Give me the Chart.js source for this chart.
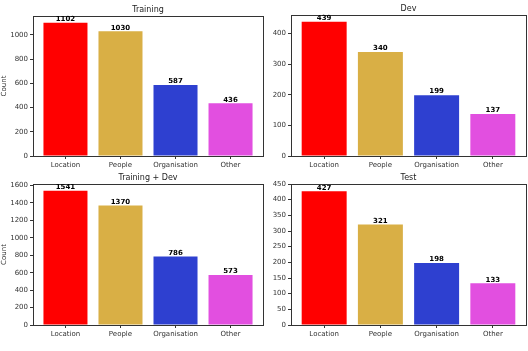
<!DOCTYPE html>
<html>
<head>
<meta charset="utf-8">
<script src="https://cdn.jsdelivr.net/npm/chart.js@4"></script>
<style>
  html, body { margin: 0; padding: 0; background: #fff; }
  #wrap { position: relative; width: 528px; height: 351px; }
  #wrap canvas { position: absolute; left: 0; top: 0; }
</style>
</head>
<body>
<div id="wrap">
  <canvas id="c-train" width="528" height="351"></canvas>
  <canvas id="c-dev" width="528" height="351"></canvas>
  <canvas id="c-traindev" width="528" height="351"></canvas>
  <canvas id="c-test" width="528" height="351"></canvas>
</div>
<script>
"use strict";

const categories = ['Location', 'People', 'Organisation', 'Other'];
const trainingCounts = [1102, 1030, 587, 436];
const devCounts = [439, 340, 199, 137];
const trainDevCounts = [1541, 1370, 786, 573];
const testCounts = [427, 321, 198, 133];
const barColors = ['#ff0000', '#d9af45', '#2e40d0', '#e24fe0'];

const FONT = "'DejaVu Sans', sans-serif";
const INK = '#333333';

// box around the axes + title + bar value labels
const panelDecor = {
	id: 'panelDecor',
	afterDatasetsDraw(chart, args, opts) {
		const ctx = chart.ctx;
		const a = chart.chartArea;
		ctx.save();
		ctx.strokeStyle = INK;
		ctx.lineWidth = 1;
		ctx.strokeRect(Math.round(a.left) + 0.5, Math.round(a.top) + 0.5,
			Math.round(a.right - a.left), Math.round(a.bottom - a.top));

		ctx.fillStyle = '#222';
		ctx.font = `8px ${FONT}`;
		ctx.textAlign = 'center';
		ctx.textBaseline = 'bottom';
		ctx.fillText(opts.title, (a.left + a.right) / 2, a.top - 2);

		ctx.fillStyle = '#000';
		ctx.font = `bold 7px ${FONT}`;
		const meta = chart.getDatasetMeta(0);
		meta.data.forEach((bar, i) => {
			ctx.fillText(chart.data.datasets[0].data[i].y, bar.x, bar.y);
		});
		ctx.restore();
	}
};

function drawPanel(id, title, counts, yMax, yStep, showCount, pad, yWidth) {
	const ctx = document.querySelector(id).getContext('2d');
	new Chart(ctx, {
		type: 'bar',
		data: {
			datasets: [{
				data: counts.map((v, i) => ({ x: i, y: v })),
				backgroundColor: barColors,
				borderWidth: 0,
				barPercentage: 0.8,
				categoryPercentage: 1.0
			}]
		},
		options: {
			responsive: false,
			animation: false,
			devicePixelRatio: 1,
			layout: { padding: pad },
			plugins: {
				legend: { display: false },
				tooltip: { enabled: false },
				panelDecor: { title: title }
			},
			scales: {
				x: {
					type: 'linear',
					min: -0.59,
					max: 3.59,
					offset: false,
					afterBuildTicks(scale) {
						scale.ticks = categories.map((c, i) => ({ value: i }));
					},
					afterFit(scale) { scale.height = 19; },
					ticks: {
						color: INK,
						font: { family: FONT, size: 7 },
						padding: 2,
						maxRotation: 0,
						autoSkip: false,
						callback: (v) => categories[v]
					},
					grid: { offset: false, drawOnChartArea: false, drawTicks: true, tickLength: 3, color: INK },
					border: { display: false }
				},
				y: {
					min: 0,
					max: yMax,
					afterBuildTicks(scale) {
						const t = [];
						for (let v = 0; v <= yMax; v += yStep) t.push({ value: v });
						scale.ticks = t;
					},
					afterFit(scale) { scale.width = yWidth; },
					ticks: {
						color: INK,
						font: { family: FONT, size: 7 },
						padding: 2,
						callback: (v) => String(v)
					},
					title: {
						display: showCount,
						text: 'Count',
						color: INK,
						font: { family: FONT, size: 7 },
						padding: 0
					},
					grid: { drawOnChartArea: false, drawTicks: true, tickLength: 3, color: INK },
					border: { display: false }
				}
			}
		},
		plugins: [panelDecor]
	});
}

drawPanel('#c-train', 'Training', trainingCounts, 1157, 200, true,
	{ left: 0, right: 265, top: 16, bottom: 176 }, 33);
drawPanel('#c-dev', 'Dev', devCounts, 461, 100, false,
	{ left: 264, right: 2, top: 15, bottom: 176 }, 27);
drawPanel('#c-traindev', 'Training + Dev', trainDevCounts, 1618, 200, true,
	{ left: 0, right: 265, top: 184, bottom: 7 }, 33);
drawPanel('#c-test', 'Test', testCounts, 450, 50, false,
	{ left: 264, right: 2, top: 184, bottom: 7 }, 27);
</script>
</body>
</html>
